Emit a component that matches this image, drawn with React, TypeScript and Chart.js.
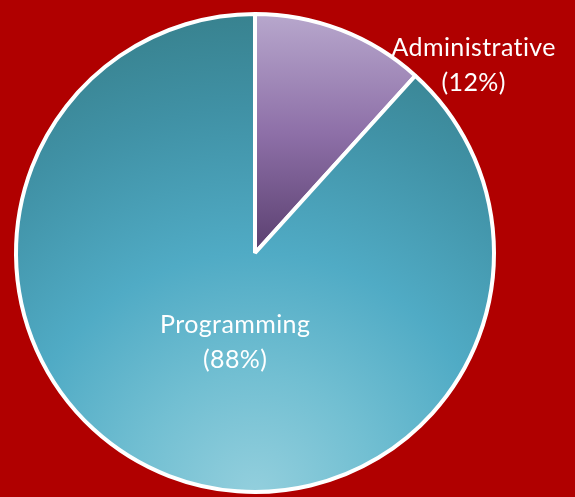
import React, { useEffect, useRef } from "react";
import { Chart, registerables } from "chart.js";

Chart.register(...registerables);

const categories = ["Administrative", "Programming"];
const values = [11.7, 88.3];
const percentLabels = ["(12%)", "(88%)"];

const labelPlugin = {
  id: "sliceLabels",
  afterDatasetsDraw(chart: any) {
    const ctx = chart.ctx;
    const meta = chart.getDatasetMeta(0);
    const offsets = [
      { dx: 0.915, dy: -0.8 },
      { dx: -0.083, dy: 0.36 },
    ];
    ctx.save();
    ctx.fillStyle = "#ffffff";
    ctx.font = "25px Lato";
    try {
      (ctx as any).letterSpacing = "0.4px";
    } catch (e) {}
    ctx.textAlign = "center";
    ctx.textBaseline = "alphabetic";
    meta.data.forEach((arc: any, i: number) => {
      const r = arc.outerRadius;
      const x = arc.x + offsets[i].dx * r;
      const y = arc.y + offsets[i].dy * r;
      ctx.fillText(categories[i], x, y - 6);
      ctx.fillText(percentLabels[i], x, y + 29);
    });
    ctx.restore();
  },
};

export default function App() {
  const ref = useRef<HTMLCanvasElement | null>(null);
  useEffect(() => {
    document.body.style.margin = "0";
    document.body.style.background = "#B00000";
    const canvas = ref.current!;
    const chart = new Chart(canvas, {
      type: "pie",
      data: {
        labels: categories,
        datasets: [
          {
            data: values,
            borderColor: "#ffffff",
            borderWidth: 4,
            backgroundColor: (c: any) => {
              const ch = c.chart;
              const area = ch.chartArea;
              if (!area) return "#4BA8C2";
              const cx = (area.left + area.right) / 2;
              const cy = (area.top + area.bottom) / 2;
              const r = Math.min(area.right - area.left, area.bottom - area.top) / 2;
              const g = ch.ctx;
              if (c.dataIndex === 0) {
                const lg = g.createLinearGradient(0, cy - r, 0, cy);
                lg.addColorStop(0, "#B8A8CD");
                lg.addColorStop(0.5, "#8E70A8");
                lg.addColorStop(1, "#5A3F6F");
                return lg;
              }
              const by = cy + r;
              const rg = g.createRadialGradient(cx, by, 0, cx, by, 2 * r);
              rg.addColorStop(0, "#93CFDD");
              rg.addColorStop(0.25, "#72BFD2");
              rg.addColorStop(0.5, "#50ABC5");
              rg.addColorStop(0.8, "#4091A5");
              rg.addColorStop(1, "#38828F");
              return rg;
            },
          },
        ],
      },
      options: {
        responsive: false,
        animation: false,
        layout: { padding: { left: 14, right: 79, top: 12, bottom: 3 } },
        plugins: {
          legend: { display: false },
          tooltip: { enabled: false },
        },
      },
      plugins: [labelPlugin],
    });
    return () => chart.destroy();
  }, []);
  return (
    <div style={{ width: 575, height: 497, background: "#B00000" }}>
      <canvas ref={ref} width={575} height={497} style={{ display: "block" }} />
    </div>
  );
}
